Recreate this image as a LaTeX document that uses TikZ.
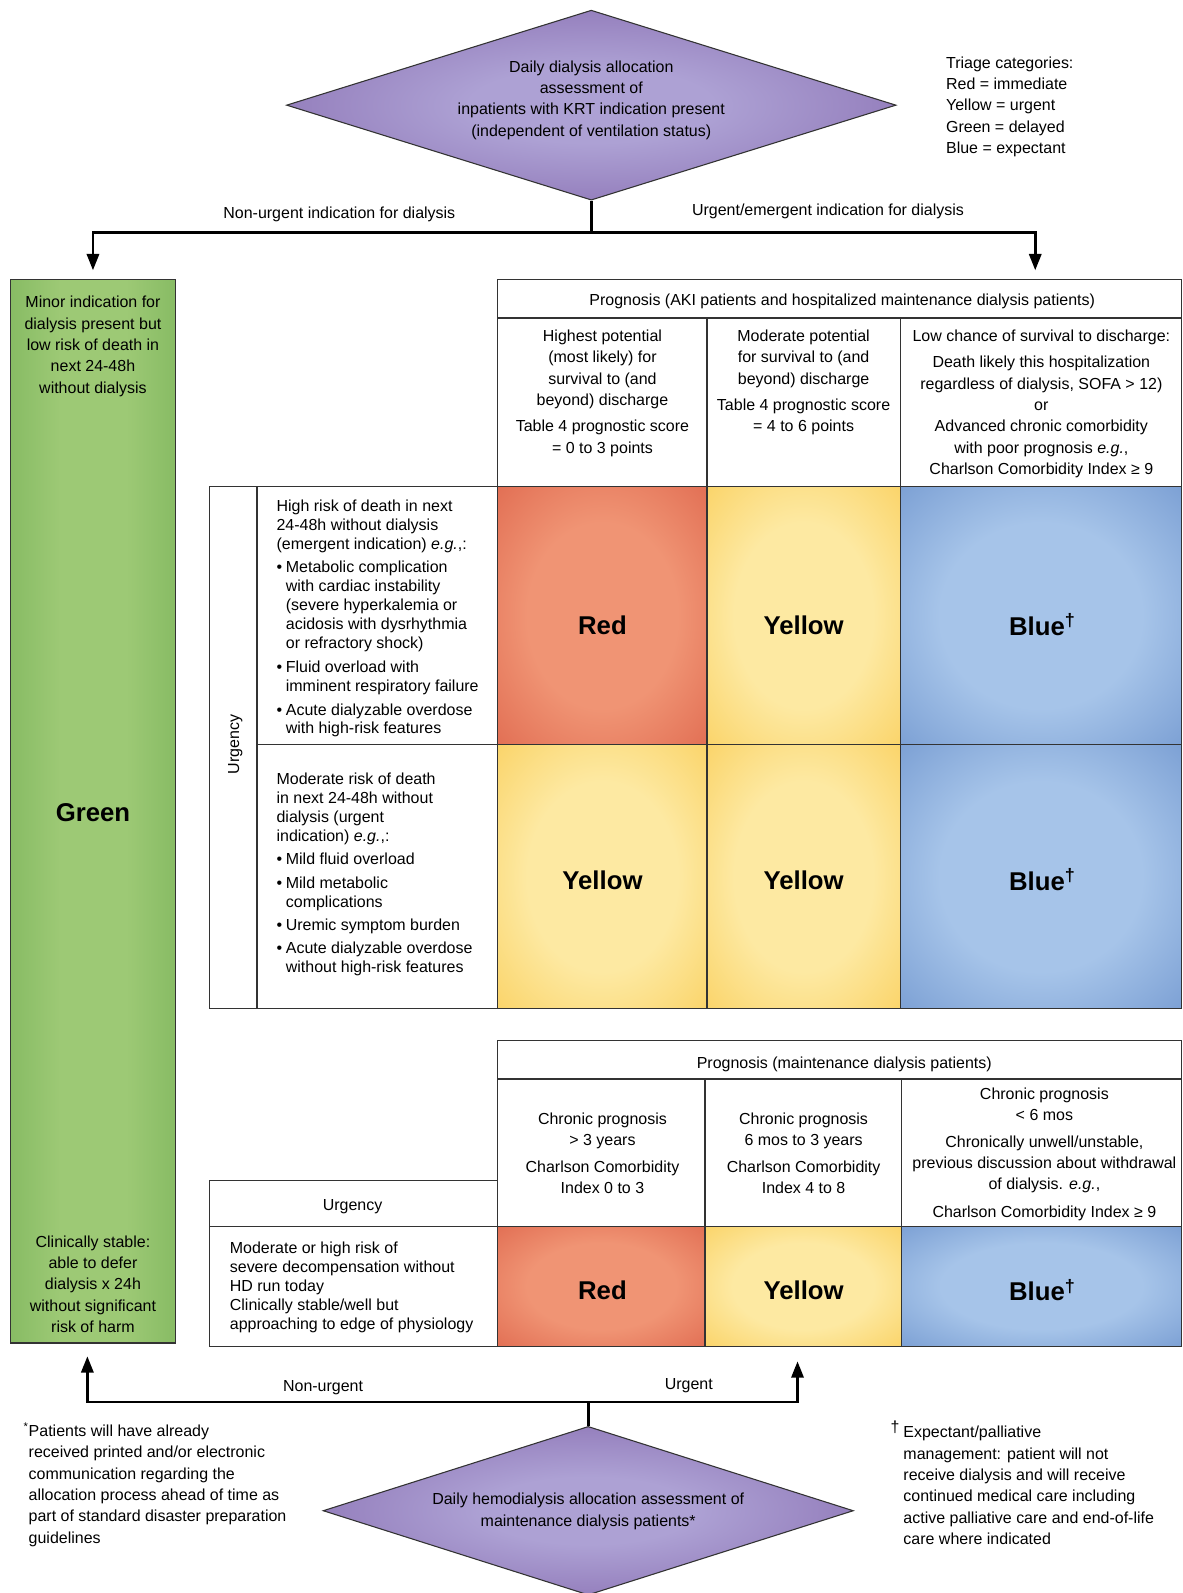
\documentclass[tikz,border=0pt]{standalone}
\usepackage{fontspec}
\setmainfont{Liberation Sans}
\usetikzlibrary{shapes.geometric,arrows.meta,fit}

\definecolor{purin}{HTML}{ADA1D4}
\definecolor{purout}{HTML}{8468AD}
\definecolor{redin}{HTML}{F09474}
\definecolor{redout}{HTML}{D6513A}
\definecolor{yelin}{HTML}{FDE9A2}
\definecolor{yelout}{HTML}{F8C33C}
\definecolor{bluin}{HTML}{A6C4E9}
\definecolor{bluout}{HTML}{5A83C3}
\definecolor{grnin}{HTML}{9DC975}
\definecolor{grnout}{HTML}{64A548}
\definecolor{linec}{HTML}{333333}

\pgfdeclareradialshading{purpsh}{\pgfpointorigin}{color(0bp)=(purin); color(10bp)=(purin); color(36bp)=(purout); color(72bp)=(purout)}
\pgfdeclareradialshading{redsh}{\pgfpointorigin}{color(0bp)=(redin); color(18bp)=(redin); color(50bp)=(redout); color(72bp)=(redout)}
\pgfdeclareradialshading{yelsh}{\pgfpointorigin}{color(0bp)=(yelin); color(18bp)=(yelin); color(50bp)=(yelout); color(72bp)=(yelout)}
\pgfdeclareradialshading{blush}{\pgfpointorigin}{color(0bp)=(bluin); color(18bp)=(bluin); color(50bp)=(bluout); color(72bp)=(bluout)}
\pgfdeclarehorizontalshading{grnsh}{100bp}{color(0bp)=(grnout); color(40bp)=(grnin); color(60bp)=(grnin); color(100bp)=(grnout)}

\newcommand\fsA{\fontsize{11.8pt}{15.75pt}\selectfont}
\newcommand\fsB{\fontsize{11.8pt}{13.9pt}\selectfont}
\newcommand\fsBig{\fontsize{19pt}{22pt}\selectfont\bfseries}
\newcommand\bul{\makebox[0.58em][l]{•}}
\newcommand\hind{\hspace*{0.58em}}
\newcommand\dg{\textsuperscript{†}}

\begin{document}
\begin{tikzpicture}[x=0.75pt,y=-0.75pt,
  box/.style={draw=linec, line width=0.9pt, inner sep=0pt},
  txt/.style={font=\fsA, align=center, inner sep=0pt, yshift=-1.5pt},
  txtl/.style={font=\fsA, align=left, inner sep=0pt, anchor=west, yshift=-1.5pt},
  rowt/.style={font=\fsB, align=left, inner sep=0pt, anchor=west, yshift=-1.5pt},
  big/.style={font=\fsBig, inner sep=0pt},
  conn/.style={line width=1.9pt, draw=black},
  arr/.style={conn, -{Triangle[length=12pt,width=9pt]}}]

\useasboundingbox (0,0) rectangle (1164,1568);

% ---------- top diamond ----------
\node[diamond, minimum width=450pt, minimum height=140.25pt, inner sep=0pt,
      draw=linec, line width=0.8pt, shade, shading=purpsh] (topdia) at (582,103.5) {};
\node[txt] (topdiatext) at (582,96.5) {Daily dialysis allocation\\assessment of\\inpatients with KRT indication present\\(independent of ventilation status)};

\node[txtl] (triage) at (931,103) {Triage categories:\\Red = immediate\\Yellow = urgent\\Green = delayed\\Blue = expectant};

% ---------- green column ----------
\node[box, fit={(10,275) (173,1322)}, shade, shading=grnsh] (green) {};
\node[txt] (greentop) at (91.5,339) {Minor indication for\\dialysis present but\\low risk of death in\\next 24-48h\\without dialysis};
\node[big] (greenlbl) at (91.5,800) {Green};
\node[txt] (greenbot) at (91.5,1262) {Clinically stable:\\able to defer\\dialysis x 24h\\without significant\\risk of harm};

% ---------- upper table ----------
\node[box, fit={(490,275) (1163,313)}] (hdrA) {};
\node[txt] (hdrAtext) at (829,295) {Prognosis (AKI patients and hospitalized maintenance dialysis patients)};
\node[box, fit={(490,313) (696,479)}] (colA1) {};
\node[box, fit={(696,313) (886,479)}] (colA2) {};
\node[box, fit={(886,313) (1163,479)}] (colA3) {};
\node[txt] (colA1text) at (593,385) {Highest potential\\(most likely) for\\survival to (and\\beyond) discharge\\[3.75pt]Table 4 prognostic score\\= 0 to 3 points};
\node[txt] (colA2text) at (791,374.5) {Moderate potential\\for survival to (and\\beyond) discharge\\[3.75pt]Table 4 prognostic score\\= 4 to 6 points};
\node[txt] (colA3text) at (1025,395.5) {Low chance of survival to discharge:\\[3.75pt]Death likely this hospitalization\\regardless of dialysis, SOFA > 12)\\or\\Advanced chronic comorbidity\\with poor prognosis \textit{e.g.},\\Charlson Comorbidity Index ≥ 9};

\node[box, fit={(206,479) (253,993)}] (urgA) {};
\node[font=\fsA, inner sep=0pt, rotate=90] (urgAtext) at (231.5,733) {Urgency};
\node[box, fit={(253,479) (490,733)}] (rowA1) {};
\node[box, fit={(253,733) (490,993)}] (rowA2) {};
\node[rowt] (rowA1text) at (272,607) {High risk of death in next\\24-48h without dialysis\\(emergent indication) \textit{e.g.},:\\[3.4pt]
\bul Metabolic complication\\\hind with cardiac instability\\\hind (severe hyperkalemia or\\\hind acidosis with dysrhythmia\\\hind or refractory shock)\\[3.8pt]
\bul Fluid overload with\\\hind imminent respiratory failure\\[3.8pt]
\bul Acute dialyzable overdose\\\hind with high-risk features};
\node[rowt] (rowA2text) at (272,859) {Moderate risk of death\\in next 24-48h without\\dialysis (urgent\\indication) \textit{e.g.},:\\[3.4pt]
\bul Mild fluid overload\\[3.4pt]
\bul Mild metabolic\\\hind complications\\[3.4pt]
\bul Uremic symptom burden\\[3.4pt]
\bul Acute dialyzable overdose\\\hind without high-risk features};

\node[box, fit={(490,479) (696,733)}, shade, shading=redsh] (cA11) {};
\node[box, fit={(696,479) (886,733)}, shade, shading=yelsh] (cA12) {};
\node[box, fit={(886,479) (1163,733)}, shade, shading=blush] (cA13) {};
\node[box, fit={(490,733) (696,993)}, shade, shading=yelsh] (cA21) {};
\node[box, fit={(696,733) (886,993)}, shade, shading=yelsh] (cA22) {};
\node[box, fit={(886,733) (1163,993)}, shade, shading=blush] (cA23) {};
\node[big] (lA11) at (593,615) {Red};
\node[big] (lA12) at (791,615) {Yellow};
\node[big] (lA13) at (1026,615) {Blue\dg};
\node[big] (lA21) at (593,866) {Yellow};
\node[big] (lA22) at (791,866) {Yellow};
\node[big] (lA23) at (1026,866) {Blue\dg};

% ---------- lower table ----------
\node[box, fit={(490,1024) (1163,1062)}] (hdrB) {};
\node[txt] (hdrBtext) at (831,1046) {Prognosis (maintenance dialysis patients)};
\node[box, fit={(490,1062) (694,1207)}] (colB1) {};
\node[box, fit={(694,1062) (887,1207)}] (colB2) {};
\node[box, fit={(887,1062) (1163,1207)}] (colB3) {};
\node[txt] (colB1text) at (593,1133) {Chronic prognosis\\> 3 years\\[3.75pt]Charlson Comorbidity\\Index 0 to 3};
\node[txt] (colB2text) at (791,1133) {Chronic prognosis\\6 mos to 3 years\\[3.75pt]Charlson Comorbidity\\Index 4 to 8};
\node[txt] (colB3text) at (1028,1134) {Chronic prognosis\\< 6 mos\\[3.75pt]Chronically unwell/unstable,\\previous discussion about withdrawal\\of dialysis. \textit{e.g.},\\[4.5pt]Charlson Comorbidity Index ≥ 9};

\node[box, fit={(206,1162) (490,1207)}] (urgB) {};
\node[txt] (urgBtext) at (347,1186) {Urgency};
\node[box, fit={(206,1207) (490,1325)}] (rowB) {};
\node[rowt] (rowBtext) at (226,1265) {Moderate or high risk of\\severe decompensation without\\HD run today\\Clinically stable/well but\\approaching to edge of physiology};

\node[box, fit={(490,1207) (694,1325)}, shade, shading=redsh] (cB1) {};
\node[box, fit={(694,1207) (887,1325)}, shade, shading=yelsh] (cB2) {};
\node[box, fit={(887,1207) (1163,1325)}, shade, shading=blush] (cB3) {};
\node[big] (lB1) at (593,1270) {Red};
\node[big] (lB2) at (791,1270) {Yellow};
\node[big] (lB3) at (1026,1270) {Blue\dg};

% ---------- top connectors ----------
\coordinate (j1) at (582,229);
\coordinate (aL) at (91.5,266);
\coordinate (aR) at (1019,266);
\draw[conn] (topdia.south) -- (j1);
\draw[arr] (j1) -| (aL);
\draw[arr] (j1) -| (aR);
\node[txt] (lblNU) at (334,209) {Non-urgent indication for dialysis};
\node[txt] (lblU) at (815,206) {Urgent/emergent indication for dialysis};

% ---------- bottom diamond ----------
\node[diamond, minimum width=391.5pt, minimum height=124.5pt, inner sep=0pt,
      draw=linec, line width=0.8pt, shade, shading=purpsh] (botdia) at (579,1487) {};
\node[txt] (botdiatext) at (579,1485.5) {Daily hemodialysis allocation assessment of\\maintenance dialysis patients*};

\coordinate (j2) at (579,1380);
\coordinate (bL) at (86,1335);
\coordinate (bR) at (785,1340);
\draw[conn] (botdia.north) -- (j2);
\draw[arr] (j2) -| (bL);
\draw[arr] (j2) -| (bR);
\node[txt] (lblNU2) at (318,1364) {Non-urgent};
\node[txt] (lblU2) at (678,1362) {Urgent};

% ---------- footnotes ----------
\node[txtl] (fnL) at (28,1459.5) {\llap{\textsuperscript{*}}Patients will have already\\received printed and/or electronic\\communication regarding the\\allocation process ahead of time as\\part of standard disaster preparation\\guidelines};
\node[txtl] (fnR) at (889,1457.5) {\llap{\raisebox{4pt}{†}\hspace{3pt}}Expectant/palliative\\management: patient will not\\receive dialysis and will receive\\continued medical care including\\active palliative care and end-of-life\\care where indicated};

\end{tikzpicture}
\end{document}
